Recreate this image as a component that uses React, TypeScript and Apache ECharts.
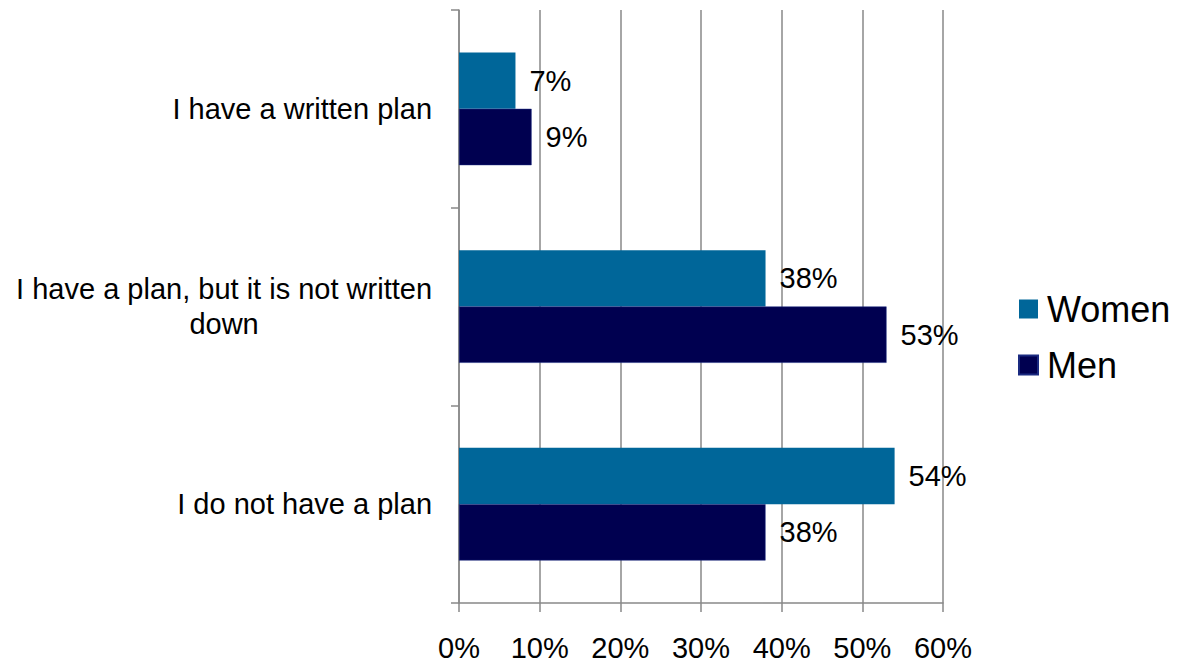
import React, { useEffect, useRef } from "react";
import * as echarts from "echarts";

const categories = [
  "I do not have a plan",
  "I have a plan, but it is not written\ndown",
  "I have a written plan",
];
const womenValues = [54, 38, 7];
const menValues = [38, 53, 9];
const seriesNames = ["Women", "Men"];
const xTicks = [0, 60, 10];

const FONT = "'Liberation Sans', Arial, Helvetica, sans-serif";

export default function App() {
  const ref = useRef<HTMLDivElement>(null);
  useEffect(() => {
    if (!ref.current) return;
    const chart = echarts.init(ref.current, null, { renderer: "svg" });
    const labelStyle = {
      show: true,
      position: "right" as const,
      distance: 14,
      color: "#000",
      fontSize: 29,
      fontFamily: FONT,
      formatter: "{c}%",
    };
    chart.setOption({
      animation: false,
      textStyle: { fontFamily: FONT },
      grid: { left: 459, right: 234, top: 10, bottom: 57, containLabel: false },
      legend: {
        data: seriesNames,
        orient: "vertical",
        left: 1018,
        top: 291,
        padding: 0,
        icon: "rect",
        itemWidth: 19,
        itemHeight: 19,
        itemGap: 20,
        textStyle: { fontSize: 36, color: "#000", fontFamily: FONT, padding: [0, 0, 0, 4] },
      },
      xAxis: {
        type: "value",
        min: xTicks[0],
        max: xTicks[1],
        interval: xTicks[2],
        axisLine: { show: true, lineStyle: { color: "#888", width: 1.5 } },
        axisTick: { show: true, length: 9, lineStyle: { color: "#888", width: 1.5 } },
        splitLine: { show: true, lineStyle: { color: "#888", width: 1.5 } },
        axisLabel: {
          formatter: "{value}%",
          fontSize: 29,
          color: "#000",
          margin: 30,
          fontFamily: FONT,
        },
      },
      yAxis: {
        type: "category",
        data: categories,
        axisLine: { show: true, lineStyle: { color: "#888", width: 1.5 } },
        axisTick: { show: true, length: 8, lineStyle: { color: "#888", width: 1.5 } },
        axisLabel: {
          margin: 27,
          color: "#000",
          fontSize: 29,
          fontFamily: FONT,
          formatter: (v: string) =>
            v
              .split("\n")
              .map((l) => `{c|${l}}`)
              .join("\n"),
          rich: {
            c: { align: "center", fontSize: 29, lineHeight: 35, color: "#000", fontFamily: FONT },
          },
        },
      },
      series: [
        {
          name: seriesNames[0],
          type: "bar",
          data: womenValues,
          barGap: "0%",
          barCategoryGap: "43%",
          itemStyle: { color: "#006699" },
          label: labelStyle,
        },
        {
          name: seriesNames[1],
          type: "bar",
          data: menValues,
          barGap: "0%",
          barCategoryGap: "43%",
          itemStyle: { color: "#000050", borderColor: "#1a2a80", borderWidth: 0.5 },
          label: labelStyle,
        },
      ],
    });
    return () => chart.dispose();
  }, []);
  return (
    <div
      ref={ref}
      style={{ position: "fixed", left: 0, top: 0, width: 1177, height: 662, background: "#fff" }}
    />
  );
}
